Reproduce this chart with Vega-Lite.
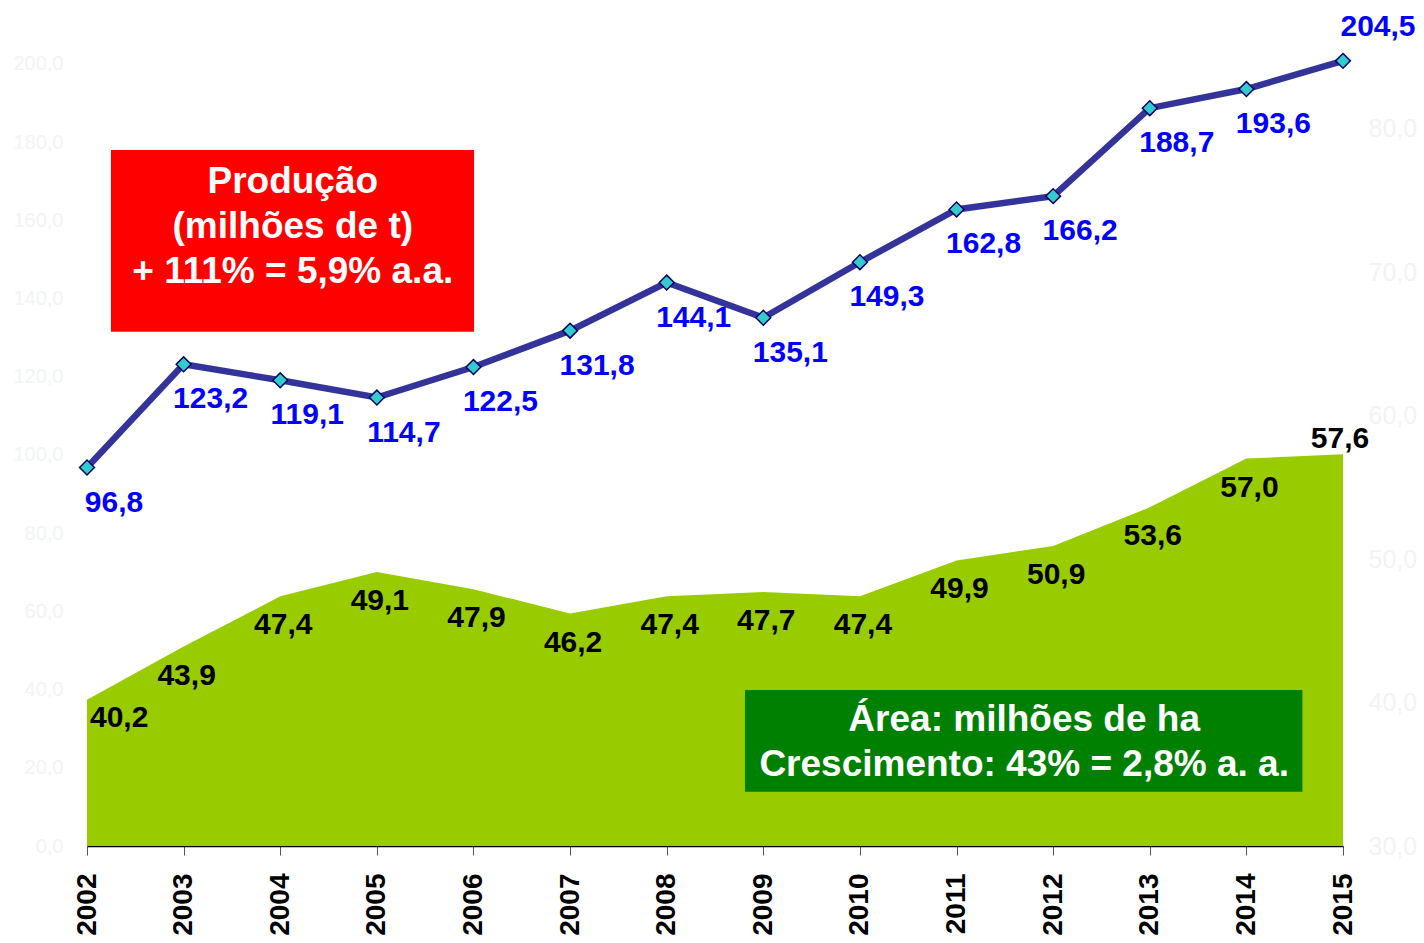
{
  "$schema": "https://vega.github.io/schema/vega-lite/v6.json",
  "width": 1256,
  "height": 840,
  "autosize": {"type": "none"},
  "padding": {"left": 87, "top": 6, "right": 81, "bottom": 97},
  "background": "#ffffff",
  "config": {
    "view": {"stroke": null},
    "font": "Liberation Sans",
    "axisX": {
      "format": "d",
      "labelAngle": 270,
      "labelAlign": "right",
      "labelBaseline": "middle",
      "labelFontSize": 28,
      "labelFontWeight": "bold",
      "labelColor": "#000000",
      "labelPadding": 18,
      "labelFlush": false,
      "labelOverlap": false,
      "labelBound": false,
      "tickSize": 9,
      "tickColor": "#555555",
      "tickWidth": 1,
      "domainColor": "#000000",
      "domainWidth": 1.5,
      "grid": false,
      "title": null,
      "zindex": 1
    },
    "axisY": {
      "domain": false,
      "ticks": false,
      "grid": false,
      "title": null,
      "labelColor": "#f0f4f2",
      "labelExpr": "replace(format(datum.value, '.1f'), '.', ',')",
      "labelOverlap": false,
      "labelBound": false
    }
  },
  "datasets": {
    "soja": [
      {"ano": 2002, "producao": 96.8, "area": 40.2, "rot_prod": "96,8", "rot_area": "40,2"},
      {"ano": 2003, "producao": 123.2, "area": 43.9, "rot_prod": "123,2", "rot_area": "43,9"},
      {"ano": 2004, "producao": 119.1, "area": 47.4, "rot_prod": "119,1", "rot_area": "47,4"},
      {"ano": 2005, "producao": 114.7, "area": 49.1, "rot_prod": "114,7", "rot_area": "49,1"},
      {"ano": 2006, "producao": 122.5, "area": 47.9, "rot_prod": "122,5", "rot_area": "47,9"},
      {"ano": 2007, "producao": 131.8, "area": 46.2, "rot_prod": "131,8", "rot_area": "46,2"},
      {"ano": 2008, "producao": 144.1, "area": 47.4, "rot_prod": "144,1", "rot_area": "47,4"},
      {"ano": 2009, "producao": 135.1, "area": 47.7, "rot_prod": "135,1", "rot_area": "47,7"},
      {"ano": 2010, "producao": 149.3, "area": 47.4, "rot_prod": "149,3", "rot_area": "47,4"},
      {"ano": 2011, "producao": 162.8, "area": 49.9, "rot_prod": "162,8", "rot_area": "49,9"},
      {"ano": 2012, "producao": 166.2, "area": 50.9, "rot_prod": "166,2", "rot_area": "50,9"},
      {"ano": 2013, "producao": 188.7, "area": 53.6, "rot_prod": "188,7", "rot_area": "53,6"},
      {"ano": 2014, "producao": 193.6, "area": 57.0, "rot_prod": "193,6", "rot_area": "57,0"},
      {"ano": 2015, "producao": 200.8, "area": 57.3, "rot_prod": "204,5", "rot_area": "57,6"}
    ],
    "caixas": [
      {"caixa": "producao", "x1": 2002.248, "x2": 2006.006, "y1": 178.0, "y2": 131.5, "tx": 2004.13, "ty": 169.8, "cor": "#ff0000", "texto": "Produção\n(milhões de t)\n+ 111% = 5,9% a.a."},
      {"caixa": "area", "x1": 2008.81, "x2": 2014.58, "y1": 39.9, "y2": 13.9, "tx": 2011.7, "ty": 32.35, "cor": "#008000", "texto": "Área: milhões de ha\nCrescimento: 43% = 2,8% a. a."}
    ]
  },
  "layer": [
    {
      "data": {"name": "soja"},
      "encoding": {
        "x": {"field": "ano", "type": "quantitative", "title": null, "scale": {"domain": [2002, 2015], "nice": false, "zero": false},
          "axis": {"values": [2002, 2003, 2004, 2005, 2006, 2007, 2008, 2009, 2010, 2011, 2012, 2013, 2014, 2015], "format": "d"}},
        "y": {"field": "area", "type": "quantitative", "title": null, "scale": {"domain": [30, 88.54], "nice": false, "zero": false},
          "axis": {"orient": "right", "values": [30, 40, 50, 60, 70, 80], "labelFontSize": 25, "labelPadding": 25, "labelAlign": "left"}}
      },
      "layer": [
        {"mark": {"type": "area", "color": "#99cc00", "opacity": 1}, "encoding": {"y2": {"datum": 30}}},
        {
          "transform": [{"filter": "datum.ano > 2002 && datum.ano < 2015"}],
          "mark": {"type": "text", "fontSize": 30, "fontWeight": "bold", "color": "#000000", "align": "center", "baseline": "middle", "dx": 3, "dy": 29},
          "encoding": {"text": {"field": "rot_area"}}
        },
        {
          "transform": [{"filter": "datum.ano == 2002"}],
          "mark": {"type": "text", "fontSize": 30, "fontWeight": "bold", "color": "#000000", "align": "left", "baseline": "middle", "dx": 3, "dy": 18},
          "encoding": {"text": {"field": "rot_area"}}
        },
        {
          "transform": [{"filter": "datum.ano == 2015"}],
          "mark": {"type": "text", "fontSize": 30, "fontWeight": "bold", "color": "#000000", "align": "center", "baseline": "middle", "dx": -3, "dy": -15},
          "encoding": {"text": {"field": "rot_area"}}
        }
      ]
    },
    {
      "layer": [
        {
          "data": {"name": "soja"},
          "mark": {"type": "line", "color": "#333399", "strokeWidth": 6.5},
          "encoding": {
            "x": {"field": "ano", "type": "quantitative", "title": null, "scale": {"domain": [2002, 2015], "nice": false, "zero": false}},
            "y": {"field": "producao", "type": "quantitative", "title": null, "scale": {"domain": [0, 214.83], "nice": false, "zero": false},
              "axis": {"orient": "left", "values": [0, 20, 40, 60, 80, 100, 120, 140, 160, 180, 200], "labelFontSize": 20, "labelPadding": 24}}
          }
        },
        {
          "data": {"name": "soja"},
          "mark": {"type": "point", "shape": "diamond", "filled": true, "fill": "#33cccc", "stroke": "#000066", "strokeWidth": 1.5, "size": 220, "opacity": 1},
          "encoding": {
            "x": {"field": "ano", "type": "quantitative", "title": null, "scale": {"domain": [2002, 2015], "nice": false, "zero": false}},
            "y": {"field": "producao", "type": "quantitative", "title": null, "scale": {"domain": [0, 214.83], "nice": false, "zero": false}}
          }
        },
        {
          "data": {"name": "soja"},
          "transform": [{"filter": "datum.ano < 2015"}],
          "mark": {"type": "text", "fontSize": 30, "fontWeight": "bold", "color": "#0000ff", "align": "center", "baseline": "middle", "dx": 27, "dy": 35},
          "encoding": {
            "x": {"field": "ano", "type": "quantitative", "title": null, "scale": {"domain": [2002, 2015], "nice": false, "zero": false}},
            "y": {"field": "producao", "type": "quantitative", "title": null, "scale": {"domain": [0, 214.83], "nice": false, "zero": false}},
            "text": {"field": "rot_prod"}
          }
        },
        {
          "data": {"name": "soja"},
          "transform": [{"filter": "datum.ano == 2015"}],
          "mark": {"type": "text", "fontSize": 30, "fontWeight": "bold", "color": "#0000ff", "align": "center", "baseline": "middle", "dx": 35, "dy": -34},
          "encoding": {
            "x": {"field": "ano", "type": "quantitative", "title": null, "scale": {"domain": [2002, 2015], "nice": false, "zero": false}},
            "y": {"field": "producao", "type": "quantitative", "title": null, "scale": {"domain": [0, 214.83], "nice": false, "zero": false}},
            "text": {"field": "rot_prod"}
          }
        },
        {
          "data": {"name": "caixas"},
          "mark": {"type": "rect"},
          "encoding": {
            "x": {"field": "x1", "type": "quantitative", "title": null, "scale": {"domain": [2002, 2015], "nice": false, "zero": false}},
            "x2": {"field": "x2"},
            "y": {"field": "y1", "type": "quantitative", "title": null, "scale": {"domain": [0, 214.83], "nice": false, "zero": false}},
            "y2": {"field": "y2"},
            "fill": {"field": "cor", "type": "nominal", "scale": null}
          }
        },
        {
          "data": {"name": "caixas"},
          "mark": {"type": "text", "fontSize": 37, "fontWeight": "bold", "color": "#ffffff", "align": "center", "baseline": "middle", "lineBreak": "\n", "lineHeight": 45},
          "encoding": {
            "x": {"field": "tx", "type": "quantitative", "title": null, "scale": {"domain": [2002, 2015], "nice": false, "zero": false}},
            "y": {"field": "ty", "type": "quantitative", "title": null, "scale": {"domain": [0, 214.83], "nice": false, "zero": false}},
            "text": {"field": "texto"}
          }
        }
      ]
    }
  ],
  "resolve": {"scale": {"y": "independent"}}
}
